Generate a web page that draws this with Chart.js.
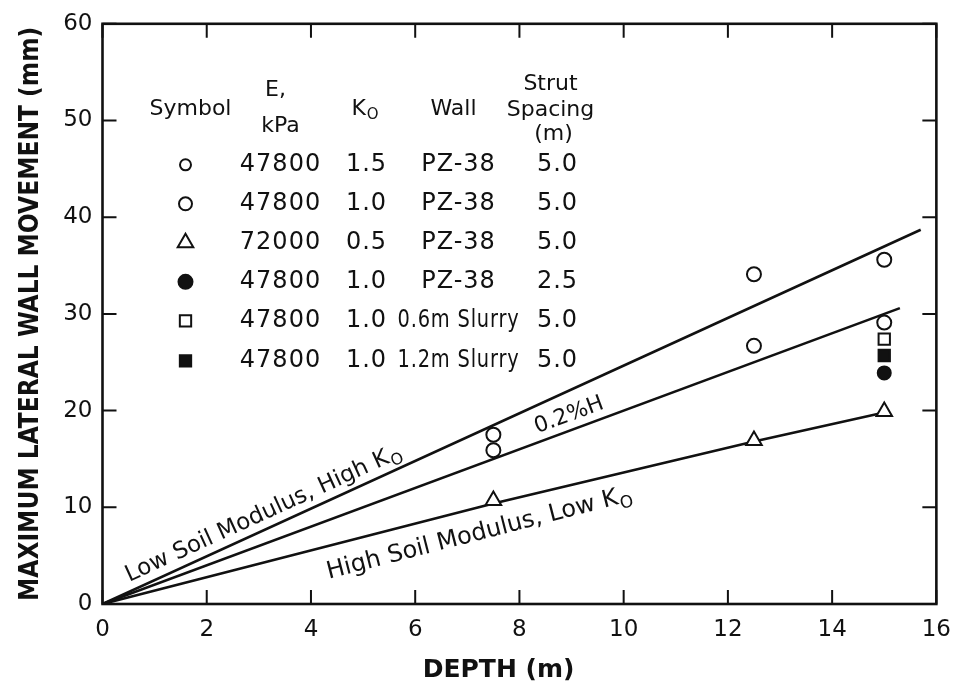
<!DOCTYPE html>
<html>
<head>
<meta charset="utf-8">
<script src="https://cdn.jsdelivr.net/npm/chart.js@4.4.1/dist/chart.umd.min.js"></script>
<style>
  html, body { margin: 0; padding: 0; background: #fff; }
</style>
</head>
<body>
<canvas id="mycanvas" width="963" height="685"></canvas>
<script>
// measured points (depth m, movement mm)
var k15Depth = [7.5, 12.5, 15];
var k15Move = [17.5, 34.1, 35.6];
var k10Depth = [7.5, 12.5, 15];
var k10Move = [15.9, 26.7, 29.1];
var e72Depth = [7.5, 12.5, 15];
var e72Move = [10.7, 16.9, 19.9];
var strut25Depth = [15];
var strut25Move = [23.9];
var slurry06Depth = [15];
var slurry06Move = [27.4];
var slurry12Depth = [15];
var slurry12Move = [25.7];

// trend lines
var lowModDepth = [0, 15.7];
var lowModMove = [0, 38.7];
var pctHDepth = [0, 15.3];
var pctHMove = [0, 30.6];
var highModDepth = [0, 7.5, 12.5, 15];
var highModMove = [0, 10.4, 16.8, 19.8];

// legend table
var legendE = ['47800', '47800', '72000', '47800', '47800', '47800'];
var legendK0 = ['1.5', '1.0', '0.5', '1.0', '1.0', '1.0'];
var legendWall = ['PZ-38', 'PZ-38', 'PZ-38', 'PZ-38', '0.6m Slurry', '1.2m Slurry'];
var legendStrut = ['5.0', '5.0', '5.0', '2.5', '5.0', '5.0'];

var FONT = '"DejaVu Sans Condensed", "Liberation Sans Narrow", "DejaVu Sans", sans-serif';
var PLAIN = '"DejaVu Sans", sans-serif';
var INK = '#111';

function pts(xs, ys) {
    var out = [];
    for (var i = 0; i < xs.length; i++) out.push({x: xs[i], y: ys[i]});
    return out;
}

function lineSet(label, xs, ys) {
    return {
        label: label, data: pts(xs, ys), showLine: true,
        borderColor: INK, borderWidth: 2.6, pointRadius: 0, fill: false, order: 2
    };
}

function markSet(label, xs, ys, style, r, filled) {
    return {
        label: label, data: pts(xs, ys), showLine: false,
        pointStyle: style, pointRadius: r, pointBorderWidth: 2,
        borderColor: INK, pointBackgroundColor: filled ? INK : '#fff', order: 1
    };
}

var datasets = [
    markSet('K0 1.5', k15Depth, k15Move, 'circle', 7, false),
    markSet('K0 1.0', k10Depth, k10Move, 'circle', 7, false),
    markSet('E 72000', e72Depth, e72Move, 'triangle', 9, false),
    markSet('Strut 2.5', strut25Depth, strut25Move, 'circle', 6.5, true),
    markSet('0.6m Slurry', slurry06Depth, slurry06Move, 'rect', 8, false),
    markSet('1.2m Slurry', slurry12Depth, slurry12Move, 'rect', 8, true),
    lineSet('Low Soil Modulus, High K0', lowModDepth, lowModMove),
    lineSet('0.2%H', pctHDepth, pctHMove),
    lineSet('High Soil Modulus, Low K0', highModDepth, highModMove)
];

// text with a subscript O (K0)
function textWidth(ctx, main, sub, size) {
    ctx.font = size + 'px ' + PLAIN;
    var w = ctx.measureText(main).width;
    if (sub) {
        ctx.font = Math.round(size * 0.7) + 'px ' + PLAIN;
        w += ctx.measureText(sub).width;
    }
    return w;
}
function subText(ctx, main, sub, x, y, size) {
    ctx.textAlign = 'left';
    ctx.textBaseline = 'middle';
    ctx.font = size + 'px ' + PLAIN;
    ctx.fillText(main, x, y);
    if (sub) {
        var w = ctx.measureText(main).width;
        ctx.font = Math.round(size * 0.7) + 'px ' + PLAIN;
        ctx.fillText(sub, x + w + 1, y + size * 0.3);
    }
}

function lineValueAt(ds, d) {
    var p = ds.data;
    for (var i = 1; i < p.length; i++) {
        if (d <= p[i].x) {
            var t = (d - p[i - 1].x) / (p[i].x - p[i - 1].x);
            return {y: p[i - 1].y + t * (p[i].y - p[i - 1].y), a: p[i - 1], b: p[i]};
        }
    }
    return {y: p[p.length - 1].y, a: p[p.length - 2], b: p[p.length - 1]};
}

var lineLabels = [
    {ds: 6, text: 'Low Soil Modulus, High K', sub: 'O', depth: 3.2, off: 15, size: 23},
    {ds: 7, text: '0.2%H', sub: '', depth: 9.05, off: 14.5, size: 22},
    {ds: 8, text: 'High Soil Modulus, Low K', sub: 'O', depth: 7.1, off: -25.6, size: 24}
];

var framePlugin = {
    id: 'frame',
    afterDraw: function(chart) {
        var ctx = chart.ctx, xs = chart.scales.x, ys = chart.scales.y, a = chart.chartArea;
        ctx.save();
        ctx.strokeStyle = INK;
        ctx.fillStyle = INK;
        // box
        ctx.lineWidth = 2.6;
        ctx.strokeRect(a.left, a.top, a.right - a.left, a.bottom - a.top);
        // inward ticks on all four sides
        ctx.lineWidth = 2;
        var tl = 14;
        ctx.beginPath();
        xs.ticks.forEach(function(t) {
            var px = xs.getPixelForValue(t.value);
            ctx.moveTo(px, a.bottom); ctx.lineTo(px, a.bottom - tl);
            ctx.moveTo(px, a.top); ctx.lineTo(px, a.top + tl);
        });
        ys.ticks.forEach(function(t) {
            var py = ys.getPixelForValue(t.value);
            ctx.moveTo(a.left, py); ctx.lineTo(a.left + tl, py);
            ctx.moveTo(a.right, py); ctx.lineTo(a.right - tl, py);
        });
        ctx.stroke();

        // x axis title (sits a little left of centre in the original)
        ctx.textAlign = 'center';
        ctx.textBaseline = 'middle';
        ctx.font = 'bold 25px ' + PLAIN;
        ctx.fillText('DEPTH (m)', xs.getPixelForValue(7.6), 670);

        // labels along the lines
        lineLabels.forEach(function(l) {
            var ds = chart.data.datasets[l.ds];
            var v = lineValueAt(ds, l.depth);
            var x0 = xs.getPixelForValue(v.a.x), y0 = ys.getPixelForValue(v.a.y);
            var x1 = xs.getPixelForValue(v.b.x), y1 = ys.getPixelForValue(v.b.y);
            var ang = Math.atan2(y1 - y0, x1 - x0);
            var fx = xs.getPixelForValue(l.depth), fy = ys.getPixelForValue(v.y);
            var nx = Math.sin(ang), ny = -Math.cos(ang);
            ctx.save();
            ctx.translate(fx + nx * l.off, fy + ny * l.off);
            ctx.rotate(ang);
            var w = textWidth(ctx, l.text, l.sub, l.size);
            subText(ctx, l.text, l.sub, -w / 2, 0, l.size);
            ctx.restore();
        });

        // legend table
        var L = a.left, T = a.top;
        var colX = [L + 83, L + 178, L + 264, L + 356, L + 455];
        var rowY = [T + 141, T + 180, T + 219, T + 258, T + 297, T + 337];
        ctx.textAlign = 'center';
        ctx.textBaseline = 'middle';
        ctx.font = '22px ' + PLAIN;
        ctx.fillText('Symbol', L + 88, T + 85);
        ctx.fillText('E,', L + 173, T + 66);
        ctx.fillText('kPa', L + 178, T + 102);
        var kw = textWidth(ctx, 'K', 'O', 22);
        subText(ctx, 'K', 'O', L + 262 - kw / 2, T + 85, 22);
        ctx.textAlign = 'center';
        ctx.font = '22px ' + PLAIN;
        ctx.fillText('Wall', L + 351, T + 85);
        ctx.fillText('Strut', L + 448, T + 60);
        ctx.fillText('Spacing', L + 448, T + 86);
        ctx.fillText('(m)', L + 451, T + 110);

        var symR = [5.5, 6.5, 9, 7, 8, 8];
        for (var i = 0; i < legendE.length; i++) {
            var d = chart.data.datasets[i];
            ctx.fillStyle = d.pointBackgroundColor;
            ctx.strokeStyle = INK;
            Chart.helpers.drawPoint(ctx, {
                pointStyle: d.pointStyle, radius: symR[i], rotation: 0, borderWidth: 2
            }, colX[0], rowY[i]);
            ctx.fillStyle = INK;
            ctx.textAlign = 'center';
            ctx.textBaseline = 'middle';
            ctx.font = '24px ' + PLAIN;
            ctx.letterSpacing = '1px';
            ctx.fillText(legendE[i], colX[1], rowY[i]);
            ctx.fillText(legendK0[i], colX[2], rowY[i]);
            ctx.fillText(legendWall[i], colX[3], rowY[i], 122);
            ctx.fillText(legendStrut[i], colX[4], rowY[i]);
            ctx.letterSpacing = '0px';
        }
        ctx.restore();
    }
};

Chart.defaults.font.family = FONT;
Chart.defaults.color = INK;

var ctx = document.getElementById('mycanvas');
var myChart = new Chart(ctx, {
    type: 'scatter',
    data: { datasets: datasets },
    options: {
        responsive: false,
        animation: false,
        devicePixelRatio: 1,
        layout: { padding: { top: 20, right: 26, left: 0, bottom: 0 } },
        plugins: { legend: { display: false }, tooltip: { enabled: false } },
        scales: {
            x: {
                type: 'linear', min: 0, max: 16,
                ticks: { stepSize: 2, font: { size: 23, family: PLAIN }, padding: 12, color: INK },
                grid: { display: false, drawTicks: false },
                border: { display: false },
                afterFit: function(s) { s.height = 81; }
            },
            y: {
                type: 'linear', min: 0, max: 60,
                ticks: { stepSize: 10, font: { size: 23, family: PLAIN }, padding: 10, color: INK },
                grid: { display: false, drawTicks: false },
                border: { display: false },
                title: { display: true, text: 'MAXIMUM LATERAL WALL MOVEMENT (mm)', color: INK,
                         font: { size: 26, weight: 'bold' }, padding: { top: 16, bottom: 0 } },
                afterFit: function(s) { s.width = 102.5; }
            }
        }
    },
    plugins: [framePlugin]
});
</script>
</body>
</html>
